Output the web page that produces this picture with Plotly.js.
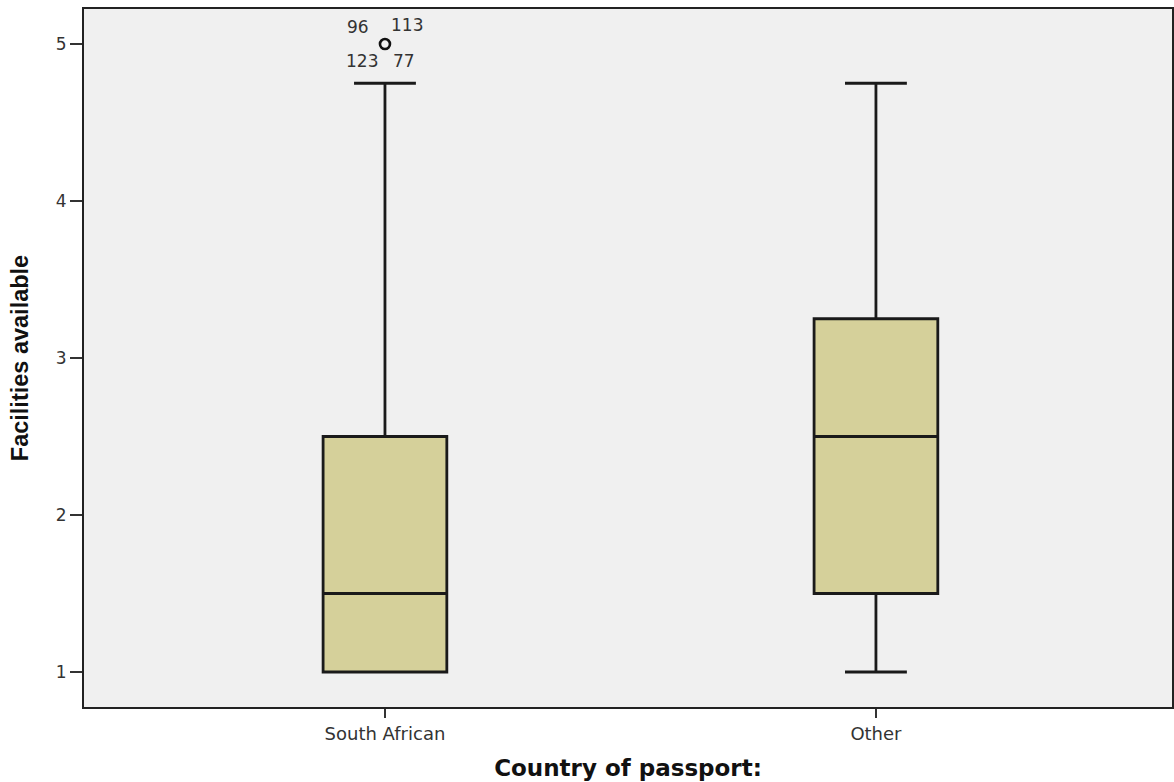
<!DOCTYPE html>
<html>
<head>
<meta charset="utf-8">
<script src="https://cdn.plot.ly/plotly-3.0.1.min.js"></script>
<style>html,body{margin:0;padding:0;background:#fff;}#chart{width:1174px;height:782px;}</style>
</head>
<body>
<div id="chart"></div>
<script>
const categories = ['South African', 'Other'];
const q1Values = [1, 1.5];
const medianValues = [1.5, 2.5];
const q3Values = [2.5, 3.25];
const lowerWhisker = [1, 1];
const upperWhisker = [4.75, 4.75];
const outlierCategory = ['South African'];
const outlierValues = [5];
const outlierCaseLabels = ['96', '113', '123', '77'];
const yTickValues = [1, 2, 3, 4, 5];

const labelOffsets = [[-27, 17], [22, 19], [-23, -17], [19, -17]];
const tickFont = {family: 'DejaVu Sans, sans-serif', size: 17, color: '#333'};

const traces = [
  {
    type: 'box',
    x: categories,
    q1: q1Values,
    median: medianValues,
    q3: q3Values,
    lowerfence: lowerWhisker,
    upperfence: upperWhisker,
    width: 0.252,
    whiskerwidth: 0.5,
    fillcolor: '#d5d09a',
    line: {color: '#1a1a1a', width: 2.8},
    boxpoints: false,
    hoverinfo: 'skip',
    showlegend: false
  },
  {
    type: 'scatter',
    mode: 'markers',
    x: outlierCategory,
    y: outlierValues,
    marker: {symbol: 'circle-open', size: 10, color: '#111', line: {width: 2.6, color: '#111'}},
    hoverinfo: 'skip',
    showlegend: false
  }
];

const annotations = outlierCaseLabels.map((t, i) => ({
  x: outlierCategory[0], y: outlierValues[0], xref: 'x', yref: 'y',
  text: t, showarrow: false,
  xshift: labelOffsets[i][0], yshift: labelOffsets[i][1],
  font: tickFont
}));

const layout = {
  width: 1174, height: 782,
  margin: {l: 84, r: 2, t: 9, b: 75},
  paper_bgcolor: '#ffffff',
  plot_bgcolor: '#f0f0f0',
  showlegend: false,
  xaxis: {
    type: 'category',
    range: [-0.613, 1.603],
    showgrid: false, zeroline: false,
    showline: true, linecolor: '#222', linewidth: 2, mirror: true,
    ticks: 'outside', ticklen: 9, tickwidth: 1.5, tickcolor: '#333',
    tickfont: {family: 'DejaVu Sans, sans-serif', size: 18, color: '#333'},
    title: {text: 'Country of passport:', standoff: 17,
      font: {family: 'DejaVu Sans, sans-serif', size: 23, color: '#111', weight: 'bold'}}
  },
  yaxis: {
    range: [0.777, 5.223],
    tickvals: yTickValues,
    showgrid: false, zeroline: false,
    showline: true, linecolor: '#222', linewidth: 2, mirror: true,
    ticks: 'outside', ticklen: 12, tickwidth: 1.5, tickcolor: '#333',
    tickfont: tickFont,
    title: {text: 'Facilities available', standoff: 21,
      font: {family: 'Liberation Sans, Arial, sans-serif', size: 23.5, color: '#111', weight: 'bold'}}
  },
  annotations: annotations
};

Plotly.newPlot('chart', traces, layout, {staticPlot: true, displayModeBar: false});
</script>
</body>
</html>
